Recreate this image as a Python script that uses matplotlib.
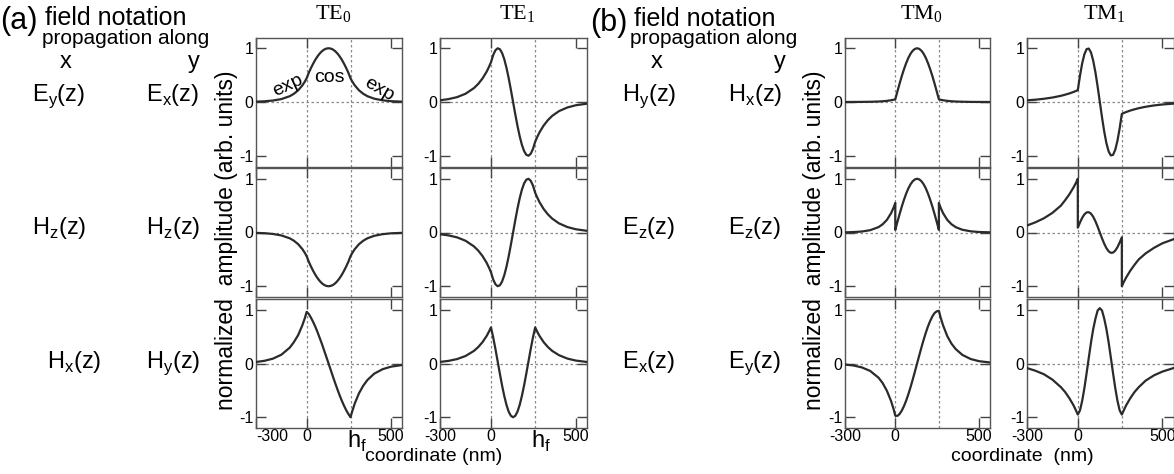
import matplotlib
matplotlib.use("Agg")
import matplotlib.pyplot as plt

plt.rcParams['font.family'] = ['Liberation Sans', 'DejaVu Sans']
plt.rcParams['axes.unicode_minus'] = False

W, H = 1174, 474
HF = 260  # film thickness h_f (nm)

# coordinate grid (nm); 0 and HF appear twice so that jumps can be drawn
z = [-300, -250, -200, -150, -100, -75, -50, -25, -10, 0,
     0, 13, 26, 39, 52, 65, 78, 91, 104, 117, 130, 143, 156, 169, 182, 195, 208, 221, 234, 247, 260,
     260, 270, 285, 310, 335, 360, 400, 450, 500, 570]

# (a) TE0
te0_ey = [0.007, 0.013, 0.027, 0.054, 0.108, 0.154, 0.218, 0.31, 0.383, 0.44,
          0.44, 0.546, 0.635, 0.716, 0.789, 0.851, 0.904, 0.946, 0.976, 0.994, 1.0,
          0.994, 0.976, 0.946, 0.904, 0.851, 0.789, 0.716, 0.635, 0.546, 0.44,
          0.44, 0.383, 0.31, 0.218, 0.154, 0.108, 0.062, 0.031, 0.015, 0.006]
te0_hz = [-0.007, -0.013, -0.027, -0.054, -0.108, -0.154, -0.218, -0.31, -0.383, -0.44,
          -0.44, -0.546, -0.635, -0.716, -0.789, -0.851, -0.904, -0.946, -0.976, -0.994, -1.0,
          -0.994, -0.976, -0.946, -0.904, -0.851, -0.789, -0.716, -0.635, -0.546, -0.44,
          -0.44, -0.383, -0.31, -0.218, -0.154, -0.108, -0.062, -0.031, -0.015, -0.006]
te0_hx = [0.028, 0.05, 0.09, 0.163, 0.295, 0.40, 0.53, 0.715, 0.85, 0.96,
          0.96, 0.92, 0.85, 0.77, 0.68, 0.58, 0.47, 0.36, 0.24, 0.12, 0.0,
          -0.123, -0.245, -0.364, -0.478, -0.588, -0.689, -0.782, -0.866, -0.938, -1.0,
          -1.0, -0.89, -0.745, -0.555, -0.415, -0.307, -0.19, -0.106, -0.059, -0.026]

# (a) TE1
te1_ey = [0.032, 0.054, 0.09, 0.153, 0.259, 0.337, 0.437, 0.567, 0.666, 0.74,
          0.74, 0.874, 0.962, 0.999, 0.983, 0.914, 0.798, 0.639, 0.446, 0.229, 0.0,
          -0.229, -0.446, -0.639, -0.798, -0.914, -0.983, -0.999, -0.962, -0.874, -0.74,
          -0.74, -0.666, -0.567, -0.437, -0.337, -0.259, -0.17, -0.101, -0.06, -0.029]
te1_hz = [-0.032, -0.054, -0.09, -0.153, -0.259, -0.337, -0.437, -0.567, -0.666, -0.74,
          -0.74, -0.874, -0.962, -0.999, -0.983, -0.914, -0.798, -0.639, -0.446, -0.229, 0.0,
          0.229, 0.446, 0.639, 0.798, 0.914, 0.983, 0.999, 0.962, 0.874, 0.74,
          0.74, 0.666, 0.567, 0.437, 0.337, 0.259, 0.17, 0.101, 0.06, 0.029]
te1_hx = [0.029, 0.049, 0.082, 0.139, 0.235, 0.306, 0.397, 0.515, 0.605, 0.672,
          0.672, 0.486, 0.273, 0.045, -0.185, -0.405, -0.602, -0.769, -0.895, -0.973, -1.0,
          -0.973, -0.895, -0.769, -0.602, -0.405, -0.185, 0.045, 0.273, 0.486, 0.672,
          0.672, 0.605, 0.515, 0.397, 0.306, 0.235, 0.155, 0.091, 0.054, 0.026]

# (b) TM0
tm0_hy = [0.0, 0.001, 0.002, 0.004, 0.009, 0.014, 0.021, 0.033, 0.042, 0.05,
          0.05, 0.2, 0.346, 0.485, 0.611, 0.724, 0.821, 0.898, 0.954, 0.988, 1.0,
          0.988, 0.954, 0.898, 0.821, 0.724, 0.611, 0.485, 0.346, 0.2, 0.05,
          0.05, 0.042, 0.033, 0.021, 0.014, 0.009, 0.005, 0.002, 0.001, 0.0]
tm0_ez = [0.003, 0.008, 0.018, 0.043, 0.10, 0.154, 0.235, 0.36, 0.465, 0.55,
          0.05, 0.2, 0.346, 0.485, 0.611, 0.724, 0.821, 0.898, 0.954, 0.988, 1.0,
          0.988, 0.954, 0.898, 0.821, 0.724, 0.611, 0.485, 0.346, 0.2, 0.05,
          0.55, 0.465, 0.36, 0.235, 0.154, 0.10, 0.051, 0.022, 0.009, 0.003]
tm0_ex = [-0.02, -0.037, -0.072, -0.138, -0.264, -0.366, -0.508, -0.70, -0.85, -0.97,
          -0.97, -0.975, -0.938, -0.875, -0.791, -0.69, -0.571, -0.44, -0.299, -0.151, 0.0,
          0.151, 0.299, 0.44, 0.571, 0.69, 0.791, 0.875, 0.938, 0.97, 0.98,
          0.98, 0.86, 0.71, 0.51, 0.37, 0.27, 0.16, 0.083, 0.043, 0.017]

# (b) TM1
tm1_hy = [0.031, 0.043, 0.06, 0.083, 0.115, 0.136, 0.159, 0.187, 0.207, 0.221,
          0.221, 0.492, 0.722, 0.89, 0.984, 0.994, 0.92, 0.768, 0.551, 0.288, 0.0,
          -0.288, -0.551, -0.768, -0.92, -0.994, -0.984, -0.89, -0.722, -0.492, -0.221,
          -0.221, -0.207, -0.187, -0.159, -0.136, -0.115, -0.089, -0.064, -0.046, -0.029]
tm1_ez = [0.13, 0.19, 0.265, 0.365, 0.50, 0.60, 0.71, 0.84, 0.93, 1.0,
          0.09, 0.187, 0.274, 0.338, 0.374, 0.378, 0.35, 0.292, 0.209, 0.109, 0.0,
          -0.109, -0.209, -0.292, -0.35, -0.378, -0.374, -0.338, -0.274, -0.187, -0.09,
          -1.0, -0.93, -0.84, -0.71, -0.60, -0.50, -0.39, -0.285, -0.2, -0.12]
tm1_ex = [-0.085, -0.135, -0.20, -0.30, -0.44, -0.53, -0.645, -0.78, -0.88, -0.95,
          -0.95, -0.871, -0.692, -0.455, -0.179, 0.111, 0.393, 0.64, 0.834, 0.985, 1.03,
          0.985, 0.834, 0.64, 0.393, 0.111, -0.179, -0.455, -0.692, -0.871, -0.95,
          -0.95, -0.88, -0.78, -0.645, -0.53, -0.44, -0.32, -0.22, -0.15, -0.08]

mode_names = ['TE$_\\mathregular{0}$', 'TE$_\\mathregular{1}$',
              'TM$_\\mathregular{0}$', 'TM$_\\mathregular{1}$']
columns = [te0_ey, te0_hz, te0_hx], [te1_ey, te1_hz, te1_hx], \
          [tm0_hy, tm0_ez, tm0_ex], [tm1_hy, tm1_ez, tm1_ex]
xticks = [-300, 0, 500]
xticklabels = ['-300', '0', '500']
yticks = [-1, 0, 1]
yticklabels = ['-1', '0', '1']

# layout in pixels
col_left = [256, 440, 845, 1027]
col_width = [146, 147, 145, 146.5]
row_top = [37.5, 168, 299]
row_h = 129

fig = plt.figure(figsize=(W / 100, H / 100), dpi=100)


def fpos(x, y):
    return x / W, 1 - y / H


curve_color = '#2b2b2b'
grid_color = '#8a8a8a'
frame_color = '#555555'

for c in range(4):
    for r in range(3):
        l = col_left[c]
        w = col_width[c]
        t = row_top[r]
        ax = fig.add_axes([l / W, 1 - (t + row_h) / H, w / W, row_h / H])
        ax.axvline(0, color=grid_color, lw=0.9, ls=(0, (2, 2)), zorder=1)
        ax.axvline(HF, color=grid_color, lw=0.9, ls=(0, (2, 2)), zorder=1)
        ax.axhline(0, color=grid_color, lw=0.9, ls=(0, (2, 2)), zorder=1)
        ax.plot(z, columns[c][r], color=curve_color, lw=1.6, zorder=3)
        ax.set_xlim(-300, 565)
        ax.set_ylim(-1.2, 1.2)
        ax.set_xticks(xticks)
        ax.set_yticks(yticks)
        ax.set_yticklabels(yticklabels)
        ax.tick_params(direction='in', top=True, right=True, length=7, width=1,
                       color='#444444', labelsize=11.5, pad=2)
        ax.tick_params(axis='x', pad=1)
        for s in ax.spines.values():
            s.set_color(frame_color)
            s.set_linewidth(1)
        if r == 2:
            ax.set_xticklabels(xticklabels)
            if c == 0:
                ax.get_xticklabels()[0].set_horizontalalignment('left')
            if c < 2:
                ax.annotate('h$_\\mathregular{f}$', xy=(HF, 0),
                            xycoords=('data', 'axes fraction'),
                            xytext=(-4, -20), textcoords='offset pixels',
                            ha='left', va='baseline', fontsize=17)
        else:
            ax.set_xticklabels([])
        if c == 0 and r == 0:
            ax.text(-109, 0.30, 'exp', rotation=25, ha='center', va='center', fontsize=14)
            ax.text(135, 0.45, 'cos', ha='center', va='center', fontsize=14)
            ax.text(430, 0.23, 'exp', rotation=-30, ha='center', va='center', fontsize=14)
        if r == 0:
            cx = l + w / 2 + 4
            fig.text(*fpos(cx, 19), mode_names[c], family='Liberation Serif',
                     fontsize=16, ha='center', va='baseline')

# y labels and x labels
ylab = 'normalized  amplitude (arb. units)'
fig.text(*fpos(226, 240), ylab, rotation=90, ha='center', va='center', fontsize=16.5)
fig.text(*fpos(815, 240), ylab, rotation=90, ha='center', va='center', fontsize=16.5)
fig.text(*fpos(434, 461), 'coordinate (nm)', ha='center', va='baseline', fontsize=14)
fig.text(*fpos(1022, 461), 'coordinate  (nm)', ha='center', va='baseline', fontsize=14)

# field notation tables on the left
fig.text(*fpos(0, 29), '(a)', fontsize=22, va='baseline')
fig.text(*fpos(45, 25), 'field notation', fontsize=18, va='baseline')
fig.text(*fpos(42, 44), 'propagation along', fontsize=15, va='baseline')
fig.text(*fpos(66, 68), 'x', fontsize=17, ha='center', va='baseline')
fig.text(*fpos(194, 68), 'y', fontsize=17, ha='center', va='baseline')

fig.text(*fpos(590, 31), '(b)', fontsize=22, va='baseline')
fig.text(*fpos(634, 26), 'field notation', fontsize=18, va='baseline')
fig.text(*fpos(630, 44), 'propagation along', fontsize=15, va='baseline')
fig.text(*fpos(657, 68), 'x', fontsize=17, ha='center', va='baseline')
fig.text(*fpos(780, 68), 'y', fontsize=17, ha='center', va='baseline')

row_base = [101, 234, 368]
a_x_left = [32, 32, 47]
labels_a_x = ['E$_\\mathregular{y}$(z)', 'H$_\\mathregular{z}$(z)', 'H$_\\mathregular{x}$(z)']
labels_a_y = ['E$_\\mathregular{x}$(z)', 'H$_\\mathregular{z}$(z)', 'H$_\\mathregular{y}$(z)']
labels_b_x = ['H$_\\mathregular{y}$(z)', 'E$_\\mathregular{z}$(z)', 'E$_\\mathregular{x}$(z)']
labels_b_y = ['H$_\\mathregular{x}$(z)', 'E$_\\mathregular{z}$(z)', 'E$_\\mathregular{y}$(z)']
for r in range(3):
    fig.text(*fpos(a_x_left[r], row_base[r]), labels_a_x[r], fontsize=17, va='baseline')
    fig.text(*fpos(146, row_base[r]), labels_a_y[r], fontsize=17, va='baseline')
    fig.text(*fpos(622, row_base[r]), labels_b_x[r], fontsize=17, va='baseline')
    fig.text(*fpos(728, row_base[r]), labels_b_y[r], fontsize=17, va='baseline')

fig.savefig('out.png', dpi=100)
